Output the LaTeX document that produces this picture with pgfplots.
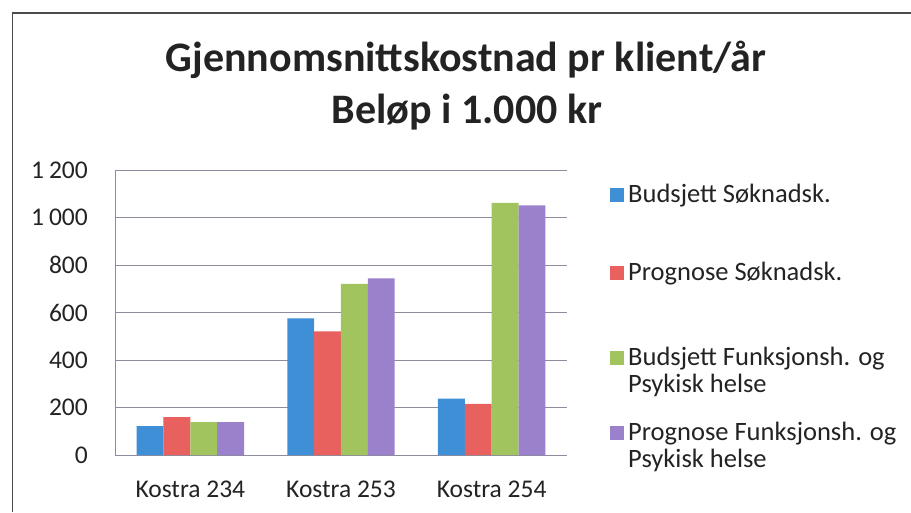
\documentclass[border=0pt]{standalone}
\usepackage{fontspec}
\setmainfont{Carlito}
\usepackage{pgfplots}
\pgfplotsset{compat=1.18}
\definecolor{cBlue}{RGB}{62,143,214}
\definecolor{cRed}{RGB}{232,97,95}
\definecolor{cGreen}{RGB}{162,196,94}
\definecolor{cPurple}{RGB}{155,128,204}
\definecolor{txt}{RGB}{35,35,35}
\definecolor{gridc}{RGB}{140,140,158}
\begin{document}
\begin{tikzpicture}[x=1pt,y=1pt]
\path[use as bounding box] (0,0) rectangle (911,512);
\draw[color=gray!60!black, line width=1.1pt] (12.5,0) -- (12.5,499) -- (911,499);
\node[anchor=base, font=\fontsize{42}{50}\selectfont\bfseries, text=txt] at (466,440) {Gjennomsnittskostnad pr klient/år};
\node[anchor=base, font=\fontsize{42}{50}\selectfont\bfseries, text=txt] at (467,388) {Beløp i 1.000 kr};
\begin{axis}[
  at={(115pt,57pt)}, anchor=south west,
  scale only axis, width=452pt, height=285pt,
  ybar=0pt, bar width=0.1783,
  xmin=-0.5, xmax=2.5, ymin=0, ymax=1200,
  xtick={0,1,2}, xticklabels={Kostra 234, Kostra 253, Kostra 254},
  ytick={0,200,...,1200},
  ymajorgrids, grid style={gridc, line width=0.8pt},
  axis x line*=bottom, axis y line*=left,
  axis line style={gridc, line width=0.8pt, -},
  major tick length=0pt,
  /pgf/number format/assume math mode=true,
  /pgf/number format/1000 sep={\hspace{0.2em}},
  tick label style={font=\fontsize{25.5}{27}\selectfont, text=txt},
  xticklabel style={anchor=base, yshift=-42pt},
  yticklabel style={anchor=east, inner sep=0pt, xshift=-27pt},
  every axis plot post/.append style={legend image code/.code={\fill[##1] (0pt,0pt) rectangle (14pt,14pt);}},
  legend style={at={(1,1)}, anchor=north west, xshift=43pt, yshift=-12pt,
    draw=none, fill=none, inner sep=0pt, row sep=0pt, column sep=4pt,
    cells={anchor=base west},
    nodes={inner sep=0pt, text depth=, text height=},
    font=\fontsize{26.5}{27}\selectfont, text=txt},
]
\addplot[fill=cBlue, draw=none] coordinates {(0,122) (1,575) (2,237)};
\addplot[fill=cRed, draw=none] coordinates {(0,159) (1,521) (2,215)};
\addplot[fill=cGreen, draw=none] coordinates {(0,138) (1,721) (2,1062)};
\addplot[fill=cPurple, draw=none] coordinates {(0,138) (1,744) (2,1051)};
\addlegendentry{Budsjett Søknadsk.\rule[-58pt]{0pt}{78pt}}
\addlegendentry{Prognose Søknadsk.\rule[-65pt]{0pt}{85pt}}
\addlegendentry{\makebox[0pt][l]{\raisebox{-27pt}{Psykisk helse}}Budsjett Funksjonsh. og\rule[-55pt]{0pt}{75pt}}
\addlegendentry{\makebox[0pt][l]{\raisebox{-27pt}{Psykisk helse}}Prognose Funksjonsh. og\rule{0pt}{20pt}}
\end{axis}
\end{tikzpicture}
\end{document}
